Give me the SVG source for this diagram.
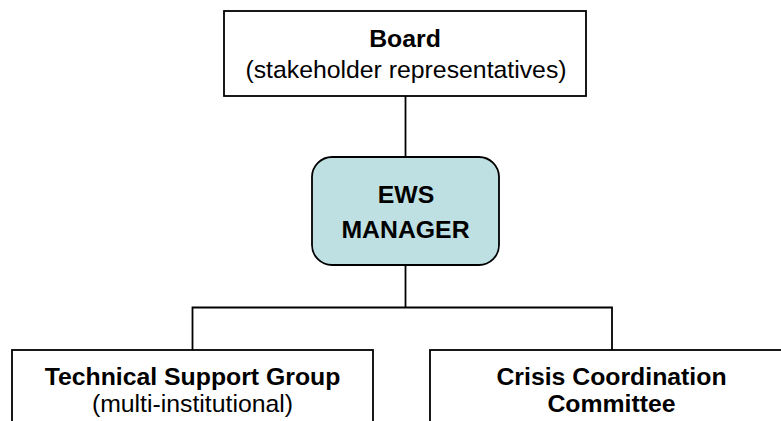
<svg xmlns="http://www.w3.org/2000/svg" width="781" height="421" viewBox="0 0 781 421">
  <style>
    .box { fill: #ffffff; stroke: #000000; stroke-width: 1.8; }
    .mgr { fill: #bfe0e3; stroke: #000000; stroke-width: 1.8; }
    .wire { fill: none; stroke: #000000; stroke-width: 1.8; }
    text { font-family: "Liberation Sans", Arial, sans-serif; font-size: 24.8px; fill: #000000; text-anchor: middle; }
    .b { font-weight: bold; }
  </style>
  <rect width="781" height="421" fill="#ffffff"/>

  <!-- connectors -->
  <g id="connectors">
    <line class="wire" x1="405.5" y1="96" x2="405.5" y2="157"/>
    <line class="wire" x1="405.5" y1="265" x2="405.5" y2="307.5"/>
    <polyline class="wire" points="192.5,350 192.5,307.5 612,307.5 612,350"/>
  </g>

  <g id="board">
    <rect class="box" x="224" y="11" width="362" height="85"/>
    <text class="b" x="405" y="47">Board</text>
    <text x="406" y="78">(stakeholder representatives)</text>
  </g>

  <g id="ews-manager">
    <rect class="mgr" x="312" y="157" width="187" height="108" rx="20" ry="20"/>
    <text class="b" x="406" y="203">EWS</text>
    <text class="b" x="405.5" y="238">MANAGER</text>
  </g>

  <g id="technical-support-group">
    <rect class="box" x="12" y="350" width="361" height="90"/>
    <text class="b" x="192.5" y="385">Technical Support Group</text>
    <text x="192.5" y="412">(multi-institutional)</text>
  </g>

  <g id="crisis-coordination-committee">
    <rect class="box" x="430" y="350" width="364" height="90"/>
    <text class="b" x="611.5" y="385">Crisis Coordination</text>
    <text class="b" x="611.5" y="412">Committee</text>
  </g>
</svg>
